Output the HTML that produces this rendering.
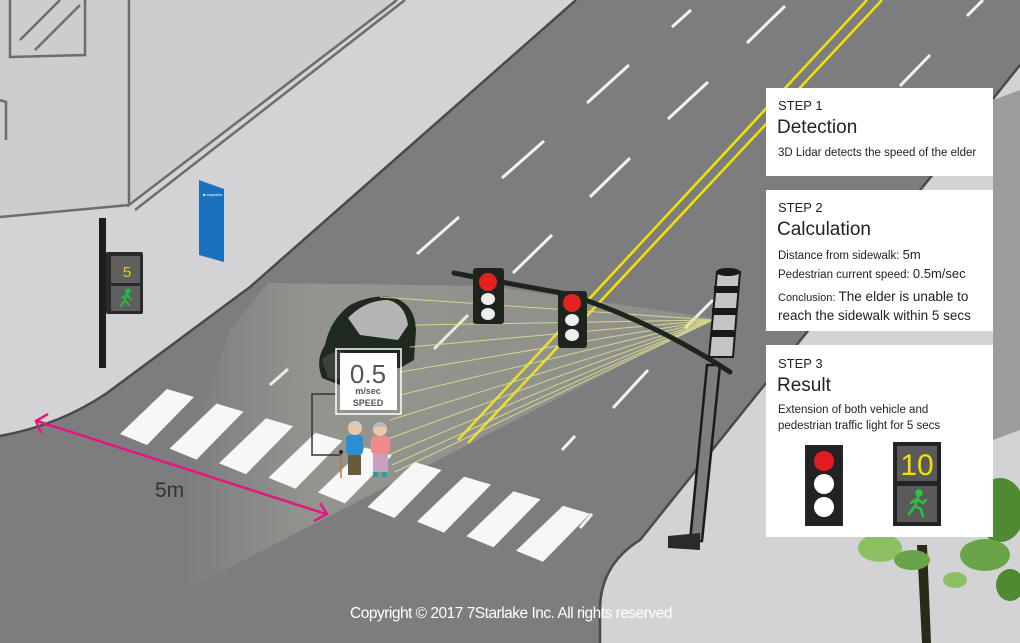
<!DOCTYPE html>
<html><head><meta charset="utf-8"><style>
html,body{margin:0;padding:0;width:1020px;height:643px;overflow:hidden;background:#d3d3d5}
svg{display:block}
text{font-family:"Liberation Sans",sans-serif}
</style></head><body>
<svg width="1020" height="643" viewBox="0 0 1020 643" xmlns="http://www.w3.org/2000/svg">
<defs>
<linearGradient id="cone" x1="186" y1="0" x2="713" y2="0" gradientUnits="userSpaceOnUse">
<stop offset="0" stop-color="#d0d0b8" stop-opacity="0"/>
<stop offset="0.25" stop-color="#d0d0b8" stop-opacity="0.28"/>
<stop offset="1" stop-color="#d0d0b0" stop-opacity="0.22"/>
</linearGradient>
</defs>
<rect width="1020" height="643" fill="#d3d3d5"/>
<path d="M576,0 L250,287 L107,393 Q60,425 0,436 L0,643 L600,643 L600,610 Q600,565 640,540 L807,332 L1020,65 L1020,0 Z" fill="#7d7d7f"/>
<path d="M576,0 L250,287 L107,393 Q60,425 0,436" fill="none" stroke="#4a4a4c" stroke-width="2.5"/>
<path d="M1020,65 L807,332 L640,540 Q600,565 600,610 L600,643" fill="none" stroke="#4a4a4c" stroke-width="2.5"/>
<path d="M993,100 L1020,90 L1020,430 L993,440 Z" fill="#9c9c9e"/>
<path d="M0,0 L397,0 L129,205 L0,217 Z" fill="#cdcdcf"/>
<path d="M129,0 L129,205 L397,0 M0,217 L129,205 M135,210 L405,0" fill="none" stroke="#6d6d6f" stroke-width="2.5"/>
<path d="M10,0 L10,57 L85,55 L85,0 M20,40 L60,0 M35,50 L80,5 M0,100 L6,102 L6,140" fill="none" stroke="#6d6d6f" stroke-width="2.5"/>
<path d="M199,180 L224,189 L224,262 L199,255 Z" fill="#1a72bf"/>
<text x="203" y="196" font-size="4" fill="#fff">■ anywebs</text>
<rect x="99" y="218" width="7" height="150" fill="#1e1e1e"/>
<rect x="106" y="252" width="37" height="62" rx="2" fill="#2a2a2a"/>
<rect x="111" y="256" width="29" height="27" fill="#5f5f5f"/>
<rect x="111" y="286" width="29" height="25" fill="#5f5f5f"/>
<text x="127" y="277" font-size="15" fill="#e8d000" text-anchor="middle" font-family="Liberation Mono">5</text>
<g stroke="#2ab840" stroke-width="2" fill="none" stroke-linecap="round">
<circle cx="128" cy="291" r="1.8" fill="#2ab840"/>
<path d="M127,294 L125,300 L121,306 M125,300 L129,305 M127,295 L131,299 M126,295 L122,298"/>
</g>
<g stroke="#f2f2f2" stroke-width="3">
<line x1="672" y1="27" x2="691" y2="10"/>
<line x1="747" y1="43" x2="785" y2="6"/>
<line x1="587" y1="103" x2="629" y2="65"/>
<line x1="668" y1="119" x2="708" y2="82"/>
<line x1="502" y1="178" x2="544" y2="141"/>
<line x1="590" y1="197" x2="630" y2="158"/>
<line x1="417" y1="254" x2="459" y2="217"/>
<line x1="513" y1="273" x2="552" y2="235"/>
<line x1="434" y1="349" x2="468" y2="315"/>
<line x1="613" y1="408" x2="648" y2="370"/>
<line x1="685" y1="328" x2="713" y2="300"/>
<line x1="900" y1="86" x2="930" y2="55"/>
<line x1="967" y1="16" x2="983" y2="0"/>
<line x1="270" y1="385" x2="288" y2="369"/>
<line x1="562" y1="450" x2="575" y2="436"/>
<line x1="580" y1="528" x2="592" y2="514"/>
</g>
<g stroke="#f3e400" stroke-width="2.5" fill="none">
<line x1="867" y1="0" x2="458" y2="440"/>
<line x1="882" y1="0" x2="468" y2="443"/>
</g>
<path d="M268,283 L490,286 L713,318 L186,590 L150,560 L230,330 Z" fill="url(#cone)"/>
<g fill="#f7f7f7">
<path d="M167,389 L194,397 L147,445 L120,434 Z"/>
<path d="M216.5,403.6 L243.5,411.6 L196.5,459.6 L169.5,448.6 Z"/>
<path d="M266,418.2 L293,426.2 L246,474.2 L219,463.2 Z"/>
<path d="M315.5,432.8 L342.5,440.8 L295.5,488.8 L268.5,477.8 Z"/>
<path d="M365,447.4 L392,455.4 L345,503.4 L318,492.4 Z"/>
<path d="M414.5,462 L441.5,470 L394.5,518 L367.5,507 Z"/>
<path d="M464,476.6 L491,484.6 L444,532.6 L417,521.6 Z"/>
<path d="M513.5,491.2 L540.5,499.2 L493.5,547.2 L466.5,536.2 Z"/>
<path d="M563,505.8 L590,513.8 L543,561.8 L516,550.8 Z"/>
</g>
<g>
<path d="M325,345 Q330,320 350,305 Q375,293 395,298 Q415,305 416,330 L414,360 L400,368 L360,372 L340,385 L322,378 Q315,360 325,345 Z" fill="#1f2a1f"/>
<path d="M348,318 Q365,300 388,300 Q405,304 408,325 L398,340 L360,335 Z" fill="#b5b5b5"/>
<path d="M335,340 L395,342 L392,352 L335,356 Z" fill="#1f2a1f"/>
<path d="M322,360 Q330,350 345,352 L344,380 L328,378 Z" fill="#3a423a"/>
</g>
<g stroke="#e0e08e" stroke-width="1" opacity="0.85">
<line x1="713" y1="320" x2="380" y2="297"/>
<line x1="713" y1="320" x2="415" y2="325"/>
<line x1="713" y1="320" x2="410" y2="347"/>
<line x1="713" y1="320" x2="400" y2="372"/>
<line x1="713" y1="320" x2="400" y2="395"/>
<line x1="713" y1="320" x2="390" y2="420"/>
<line x1="713" y1="320" x2="385" y2="440"/>
<line x1="713" y1="320" x2="388" y2="455"/>
<line x1="713" y1="320" x2="392" y2="465"/>
<line x1="713" y1="320" x2="395" y2="472"/>
</g>
<path d="M336,394 L312,394 L312,455 L342,455" fill="none" stroke="#333" stroke-width="1.5"/>
<rect x="336" y="349" width="65" height="65" fill="none" stroke="#fff" stroke-width="1.5"/>
<rect x="340" y="353" width="57" height="57" fill="#fff"/>
<text x="368" y="383" font-size="26" fill="#555" text-anchor="middle">0.5</text>
<text x="368" y="394" font-size="9" font-weight="bold" fill="#555" text-anchor="middle">m/sec</text>
<text x="368" y="406" font-size="9" font-weight="bold" fill="#555" text-anchor="middle">SPEED</text>
<g>
<circle cx="355" cy="428" r="7" fill="#e9c9a8"/><path d="M348,426 Q355,416 362,426" fill="#ccc"/>
<rect x="346" y="435" width="17" height="20" rx="4" fill="#2a8fd0"/>
<rect x="348" y="455" width="13" height="20" fill="#6b5a3a"/>
<line x1="341" y1="452" x2="341" y2="478" stroke="#b07a4a" stroke-width="1.5"/>
<circle cx="341" cy="452" r="2" fill="#222"/>
<circle cx="380" cy="429" r="7" fill="#e9c9a8"/><path d="M373,427 Q380,417 387,427" fill="#bbb"/>
<rect x="371" y="436" width="19" height="18" rx="4" fill="#ee8a8a"/>
<rect x="373" y="454" width="15" height="18" fill="#c9a0c0"/>
<rect x="373" y="472" width="5" height="5" fill="#2aa0a0"/><rect x="382" y="472" width="5" height="5" fill="#2aa0a0"/>
</g>
<path d="M707,365 L720,365 L702,541 L690,541 Z" fill="#7d7d7f" stroke="#1a1a1a" stroke-width="2.5"/>
<path d="M668,536 L700,533 L700,550 L668,548 Z" fill="#2a2a2a"/>
<path d="M454,273 Q500,282 567,294 Q650,320 730,372" fill="none" stroke="#1d241d" stroke-width="5" stroke-linecap="round"/>
<g>
<path d="M717,272 L740,272 L733,357 L709,357 Z" fill="#c4c4c4" stroke="#1a1a1a" stroke-width="2"/>
<rect x="714" y="286" width="24" height="7" fill="#1a1a1a"/>
<rect x="712" y="308" width="24" height="7" fill="#1a1a1a"/>
<rect x="711" y="330" width="23" height="7" fill="#1a1a1a"/>
<ellipse cx="728" cy="272" rx="12" ry="4" fill="#1a1a1a"/>
</g>
<g>
<rect x="473" y="268" width="31" height="56" rx="3" fill="#1d241d"/>
<circle cx="488" cy="282" r="9" fill="#e52222"/>
<ellipse cx="488" cy="299" rx="7" ry="6" fill="#eee"/>
<ellipse cx="488" cy="314" rx="7" ry="6" fill="#eee"/>
<rect x="558" y="291" width="29" height="57" rx="3" fill="#1d241d"/>
<circle cx="572" cy="303" r="9" fill="#e52222"/>
<ellipse cx="572" cy="320" rx="7" ry="6" fill="#eee"/>
<ellipse cx="572" cy="335" rx="7" ry="6" fill="#eee"/>
</g>
<g>
<path d="M917,545 L922,643 L931,643 L927,545 Z" fill="#2a2a1a"/>
<ellipse cx="880" cy="548" rx="22" ry="14" fill="#8cc062"/>
<ellipse cx="912" cy="560" rx="18" ry="10" fill="#6aa448"/>
<ellipse cx="1000" cy="510" rx="25" ry="32" fill="#4e8a30"/>
<ellipse cx="985" cy="555" rx="25" ry="16" fill="#6aa448"/>
<ellipse cx="1010" cy="585" rx="14" ry="16" fill="#4e8a30"/>
<ellipse cx="955" cy="580" rx="12" ry="8" fill="#8cc062"/>
</g>
<g stroke="#e4167f" stroke-width="2.5" fill="none">
<line x1="37" y1="421" x2="326" y2="514"/>
<path d="M48,414 L36,421 L41,433"/>
<path d="M314,521 L327,514 L320,503"/>
</g>
<text x="155" y="497" font-size="21" fill="#333">5m</text>
<g>
<rect x="766" y="88" width="227" height="88" fill="#fff"/>
<text x="778" y="110" font-size="13" fill="#222">STEP 1</text>
<text x="777" y="133" font-size="19" fill="#222">Detection</text>
<text x="778" y="156" font-size="11.5" fill="#222">3D Lidar detects the speed of the elder</text>
<rect x="766" y="190" width="227" height="141" fill="#fff"/>
<text x="778" y="212" font-size="13" fill="#222">STEP 2</text>
<text x="777" y="235" font-size="19" fill="#222">Calculation</text>
<text x="778" y="259" font-size="11.5" fill="#222">Distance from sidewalk: <tspan font-size="13">5m</tspan></text>
<text x="778" y="278" font-size="11.5" fill="#222">Pedestrian current speed: <tspan font-size="13">0.5m/sec</tspan></text>
<text x="778" y="301" font-size="11" fill="#222">Conclusion: <tspan font-size="13.5">The elder is unable to</tspan></text>
<text x="778" y="320" font-size="13.5" fill="#222">reach the sidewalk within 5 secs</text>
<rect x="766" y="345" width="227" height="192" fill="#fff"/>
<text x="778" y="368" font-size="13" fill="#222">STEP 3</text>
<text x="777" y="391" font-size="19" fill="#222">Result</text>
<text x="778" y="413" font-size="11.5" fill="#222">Extension of both vehicle and</text>
<text x="778" y="429" font-size="11.5" fill="#222">pedestrian traffic light for 5 secs</text>
<rect x="805" y="445" width="38" height="81" fill="#232323"/>
<circle cx="824" cy="461" r="10" fill="#e51b23"/>
<circle cx="824" cy="484" r="10" fill="#fff"/>
<circle cx="824" cy="507" r="10" fill="#fff"/>
<rect x="893" y="442" width="48" height="84" fill="#232323"/>
<rect x="897" y="446" width="40" height="35" fill="#5a5a5a"/>
<rect x="897" y="486" width="40" height="36" fill="#5a5a5a"/>
<text x="917" y="475" font-size="30" fill="#f0e000" text-anchor="middle" font-family="Liberation Mono">10</text>
<g stroke="#2bc040" stroke-width="2.5" fill="none" stroke-linecap="round">
<circle cx="919" cy="493" r="2.5" fill="#2bc040"/>
<path d="M918,497 L915,506 L909,514 M915,506 L921,509 L923,516 M917,499 L923,503 L926,500 M917,499 L911,503"/>
</g>
</g>
<text x="511" y="618" font-size="15.5" fill="#fff" text-anchor="middle" style="letter-spacing:-0.5px">Copyright © 2017 7Starlake Inc. All rights reserved</text>
</svg>
</body></html>
